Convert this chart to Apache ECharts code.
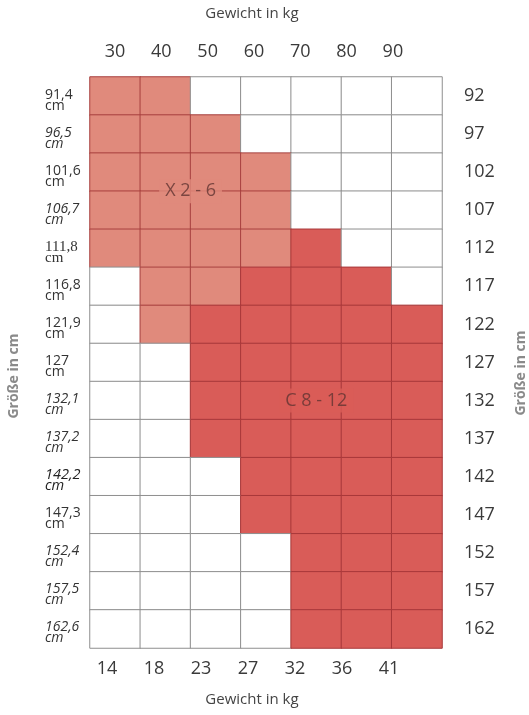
<!DOCTYPE html>
<html><head><meta charset="utf-8">
<script src="https://cdn.jsdelivr.net/npm/echarts@6/dist/echarts.min.js"></script>
<style>html,body{margin:0;padding:0;background:#fff}#c{width:529px;height:715px}</style>
</head><body><div id="c"></div>
<script>
// Columns (weight classes) and rows (height classes)
const weightTopLabels = [30, 40, 50, 60, 70, 80, 90];
const weightBottomLabels = ['14', '18', '23', '27', '32', '36', '41'];
const heightLeftLabels = ['91,4', '96,5', '101,6', '106,7', '111,8', '116,8', '121,9', '127', '132,1', '137,2', '142,2', '147,3', '152,4', '157,5', '162,6'];
const heightLeftStyle = ['n', 'i', 'n', 'i', 's', 'n', 'n', 'n', 'i', 'i', 'b', 'n', 'i', 'i', 'i'];
const heightRightLabels = ['92', '97', '102', '107', '112', '117', '122', '127', '132', '137', '142', '147', '152', '157', '162'];
// 0 = none, 1 = X 2-6, 2 = C 8-12  (one row per height class, one entry per weight column)
const sizeRows = [
  [1, 1, 0, 0, 0, 0, 0],
  [1, 1, 1, 0, 0, 0, 0],
  [1, 1, 1, 1, 0, 0, 0],
  [1, 1, 1, 1, 0, 0, 0],
  [1, 1, 1, 1, 2, 0, 0],
  [0, 1, 1, 2, 2, 2, 0],
  [0, 1, 2, 2, 2, 2, 2],
  [0, 0, 2, 2, 2, 2, 2],
  [0, 0, 2, 2, 2, 2, 2],
  [0, 0, 2, 2, 2, 2, 2],
  [0, 0, 0, 2, 2, 2, 2],
  [0, 0, 0, 2, 2, 2, 2],
  [0, 0, 0, 0, 2, 2, 2],
  [0, 0, 0, 0, 2, 2, 2],
  [0, 0, 0, 0, 2, 2, 2]
];
const sizeNames = ['X 2 - 6', 'C 8 - 12'];
const sizeLabelPos = [[2, 3], [4.5, 8.5]];

const fillColors = ['#ffffff', '#e08a7c', '#d95c58'];
const borderColors = ['#8e8e8e', '#a8403f', '#a8383a'];

const heatData = [];
sizeRows.forEach((row, r) => row.forEach((v, c) => {
  heatData.push({ value: [c, r, v], itemStyle: { color: fillColors[v], borderColor: borderColors[v], borderWidth: 1 } });
}));

const colIdx = weightTopLabels.map((_, i) => i);
const font = '"Open Sans", "Noto Sans", sans-serif';

const chart = echarts.init(document.getElementById('c'), null, { renderer: 'canvas' });
chart.setOption({
  animation: false,
  backgroundColor: '#ffffff',
  grid: { left: 90, right: 87, top: 77, bottom: 67, containLabel: false },
  xAxis: [
    { type: 'category', data: colIdx, show: false, position: 'bottom' },
    { type: 'value', position: 'top', min: 24.6, max: 100.6,
      axisLine: { show: false }, axisTick: { show: false }, splitLine: { show: false },
      axisLabel: { customValues: weightTopLabels, fontSize: 18, color: '#3a3a3a', fontFamily: font, margin: 16 } },
    { type: 'value', position: 'bottom', min: -0.362, max: 7.128,
      axisLine: { show: false }, axisTick: { show: false }, splitLine: { show: false },
      axisLabel: { customValues: colIdx, formatter: v => weightBottomLabels[Math.round(v)], fontSize: 18, color: '#3a3a3a', fontFamily: font, margin: 12 } },
    { type: 'value', min: 0, max: 7, show: false, position: 'bottom' }
  ],
  yAxis: [
    { type: 'category', data: heightLeftLabels, inverse: true, position: 'left',
      axisLine: { show: false }, axisTick: { show: false }, splitLine: { show: false },
      axisLabel: {
        align: 'left', margin: 45, verticalAlign: 'middle', padding: [8, 0, 0, 0],
        formatter: (v, i) => { const s = heightLeftStyle[i]; return '{' + s + '|' + v + '}\n{' + s + '|cm}'; },
        rich: {
          n: { fontSize: 14, lineHeight: 11, color: '#333', fontFamily: font },
          i: { fontSize: 14, lineHeight: 11, color: '#333', fontFamily: font, fontStyle: 'italic' },
          b: { fontSize: 14.5, lineHeight: 11, color: '#222', fontFamily: font, fontStyle: 'italic', fontWeight: 500 },
          s: { fontSize: 15, lineHeight: 11, color: '#333', fontFamily: '"Liberation Serif", "DejaVu Serif", serif' }
        }
      } },
    { type: 'category', data: heightRightLabels, inverse: true, position: 'right',
      axisLine: { show: false }, axisTick: { show: false }, splitLine: { show: false },
      axisLabel: { align: 'left', margin: 22, fontSize: 18, color: '#3a3a3a', fontFamily: font, padding: [8, 0, 0, 0] } },
    { type: 'value', min: 0, max: 15, inverse: true, show: false }
  ],
  series: [
    { type: 'heatmap', xAxisIndex: 0, yAxisIndex: 0, data: heatData, emphasis: { disabled: true } },
    { type: 'scatter', xAxisIndex: 3, yAxisIndex: 2, symbolSize: 0, silent: true,
      data: sizeNames.map((n, k) => ({
        value: sizeLabelPos[k], name: n,
        label: { backgroundColor: fillColors[k + 1] }
      })),
      label: { show: true, position: 'inside', formatter: p => p.name, fontSize: 18, color: '#623532',
        fontFamily: font, padding: [3, 6] } }
  ],
  graphic: [
    { type: 'text', x: 252, y: 14, style: { text: 'Gewicht in kg', fontSize: 15, fill: '#444', fontFamily: font, align: 'center', verticalAlign: 'middle' } },
    { type: 'text', x: 252, y: 700, style: { text: 'Gewicht in kg', fontSize: 15, fill: '#444', fontFamily: font, align: 'center', verticalAlign: 'middle' } },
    { type: 'text', x: 14, y: 376, rotation: Math.PI / 2, style: { text: 'Größe in cm', fontSize: 14, fontWeight: 'bold', fill: '#8a8a8a', fontFamily: font, align: 'center', verticalAlign: 'middle' } },
    { type: 'text', x: 521, y: 373, rotation: Math.PI / 2, style: { text: 'Größe in cm', fontSize: 14, fontWeight: 'bold', fill: '#8a8a8a', fontFamily: font, align: 'center', verticalAlign: 'middle' } }
  ]
});
</script></body></html>
